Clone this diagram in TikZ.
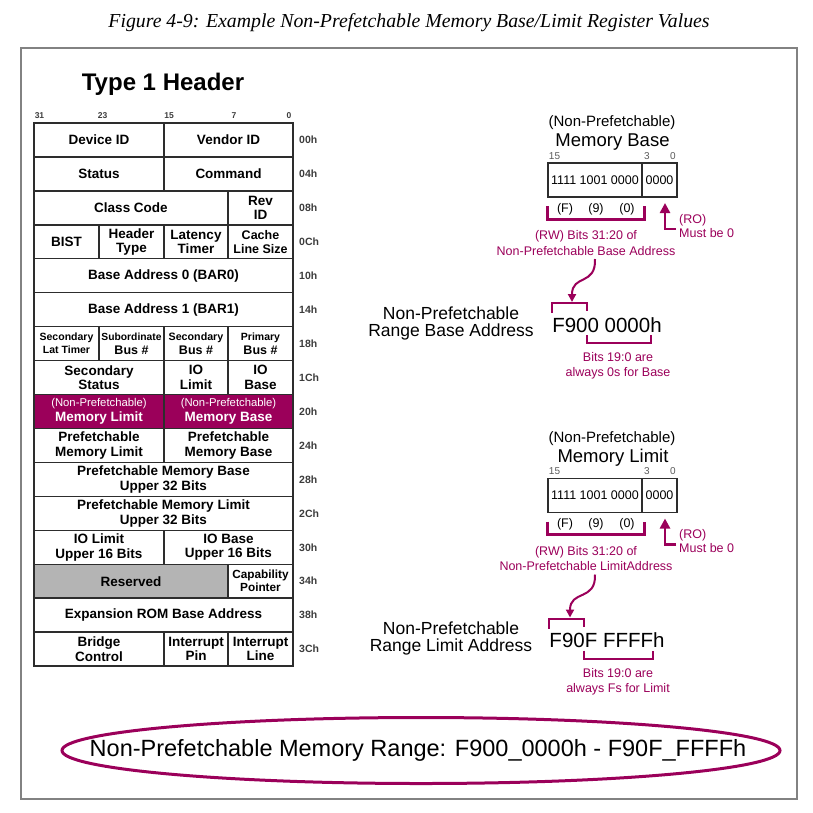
\documentclass[tikz,border=0pt]{standalone}
\usepackage{fontspec}
\setmainfont{Liberation Sans}
\newfontfamily\capfont{Liberation Serif}
\usetikzlibrary{shapes.geometric,arrows.meta}
\definecolor{pcipurple}{RGB}{155,0,90}
\definecolor{gridline}{RGB}{45,45,45}
\definecolor{resgray}{RGB}{180,180,180}
\definecolor{offgray}{RGB}{60,60,60}
\definecolor{bitgray}{RGB}{90,90,90}
\definecolor{framegray}{RGB}{130,130,130}
\newcommand\fsz[2]{\fontsize{#1}{#2}\selectfont}
\newcommand\tcell[6][]{\node[cellbox,#1,minimum width={(#4-#3)*1pt},minimum height=33.94pt] (#2) at ({(#3+#4)/2},{123+(#5+0.5)*33.94}) {#6};}
\newcommand\offlab[3]{\node[offs] (#1) at (299,{123+(#2+0.5)*33.94}) {#3};}
\begin{document}
\begin{tikzpicture}[x=1pt,y=-1pt,
  cellbox/.style={draw=gridline, line width=1.4pt, inner sep=0pt, outer sep=0pt, align=center, font=\bfseries\fsz{13.5}{14.5}},
  offs/.style={anchor=west, text=offgray, font=\bfseries\fsz{10.5}{12}, inner sep=0pt},
  bitnum/.style={font=\bfseries\fsz{8.5}{9}, inner sep=0pt, text=offgray},
  rbit/.style={font=\fsz{10}{11}, inner sep=0pt, text=bitgray},
  plain/.style={inner sep=0pt, align=center},
  ptxt/.style={text=pcipurple, inner sep=0pt, align=center, font=\fsz{12.5}{15.5}},
  regbox/.style={draw=gridline, line width=1.8pt, minimum height=34pt, inner sep=0pt, outer sep=0pt, font=\fsz{12.5}{14}},
  brk/.style={draw=pcipurple, line width=3pt},
  thinbrk/.style={draw=pcipurple, line width=2pt},
  roarr/.style={draw=pcipurple, line width=2.5pt, -{Triangle[width=10pt,length=10pt]}},
  curvarr/.style={draw=pcipurple, line width=2pt, -{Triangle[width=8pt,length=8pt]}}
]
\useasboundingbox (0,0) rectangle (813,812);
\draw[framegray, line width=1.5pt] (21,48) rectangle (797,799);

\node[font=\capfont\itshape\fsz{19.8}{21}, inner sep=0pt, anchor=base] (cap) at (409,27) {Figure 4-9: Example Non-Prefetchable Memory Base/Limit Register Values};

\node[font=\bfseries\fsz{24}{26}, inner sep=0pt, anchor=base] (title) at (163,90) {Type 1 Header};

\node[bitnum] (b31) at (39.5,115.5) {31};
\node[bitnum] (b23) at (102.5,115.5) {23};
\node[bitnum] (b15) at (169,115.5) {15};
\node[bitnum] (b7) at (234,115.5) {7};
\node[bitnum] (b0) at (289,115.5) {0};

\tcell{devid}{34}{164}{0}{Device ID}
\tcell{venid}{164}{293}{0}{Vendor ID}
\tcell{status}{34}{164}{1}{Status}
\tcell{command}{164}{293}{1}{Command}
\tcell{class}{34}{228}{2}{Class Code}
\tcell{rev}{228}{293}{2}{Rev\\ID}
\tcell{bist}{34}{99}{3}{BIST}
\tcell{htype}{99}{164}{3}{Header\\Type}
\tcell{lat}{164}{228}{3}{Latency\\Timer}
\tcell[font=\bfseries\fsz{12.5}{14.5}]{cache}{228}{293}{3}{Cache\\Line Size}
\tcell{bar0}{34}{293}{4}{Base Address 0 (BAR0)}
\tcell{bar1}{34}{293}{5}{Base Address 1 (BAR1)}
\tcell[font=\bfseries\fsz{10.5}{13}]{seclat}{34}{99}{6}{Secondary\\Lat Timer}
\tcell[font=\bfseries\fsz{12.5}{13.5}]{subbus}{99}{164}{6}{{\fsz{10.3}{12}Subordinate}\\Bus \#}
\tcell[font=\bfseries\fsz{12.5}{13.5}]{secbus}{164}{228}{6}{{\fsz{10.7}{12}Secondary}\\Bus \#}
\tcell[font=\bfseries\fsz{12.5}{13.5}]{pribus}{228}{293}{6}{{\fsz{10.5}{12}Primary}\\Bus \#}
\tcell{secstat}{34}{164}{7}{Secondary\\Status}
\tcell{iolim}{164}{228}{7}{IO\\Limit}
\tcell{iobase}{228}{293}{7}{IO\\Base}
\tcell[fill=pcipurple,text=white]{npml}{34}{164}{8}{{\mdseries\fsz{11.3}{12}(Non-Prefetchable)}\\Memory Limit}
\tcell[fill=pcipurple,text=white]{npmb}{164}{293}{8}{{\mdseries\fsz{11.3}{12}(Non-Prefetchable)}\\Memory Base}
\tcell{pml}{34}{164}{9}{Prefetchable\\Memory Limit}
\tcell{pmb}{164}{293}{9}{Prefetchable\\Memory Base}
\tcell{pmbu}{34}{293}{10}{Prefetchable Memory Base\\Upper 32 Bits}
\tcell{pmlu}{34}{293}{11}{Prefetchable Memory Limit\\Upper 32 Bits}
\tcell{iolu}{34}{164}{12}{IO Limit\\Upper 16 Bits}
\tcell{iobu}{164}{293}{12}{IO Base\\Upper 16 Bits}
\tcell[fill=resgray]{res}{34}{228}{13}{Reserved}
\tcell[font=\bfseries\fsz{11.8}{13}]{capp}{228}{293}{13}{Capability\\Pointer}
\tcell{erom}{34}{293}{14}{Expansion ROM Base Address}
\tcell{bctl}{34}{164}{15}{Bridge\\Control}
\tcell{ipin}{164}{228}{15}{Interrupt\\Pin}
\tcell{iline}{228}{293}{15}{Interrupt\\Line}

\offlab{o00}{0}{00h}
\offlab{o04}{1}{04h}
\offlab{o08}{2}{08h}
\offlab{o0C}{3}{0Ch}
\offlab{o10}{4}{10h}
\offlab{o14}{5}{14h}
\offlab{o18}{6}{18h}
\offlab{o1C}{7}{1Ch}
\offlab{o20}{8}{20h}
\offlab{o24}{9}{24h}
\offlab{o28}{10}{28h}
\offlab{o2C}{11}{2Ch}
\offlab{o30}{12}{30h}
\offlab{o34}{13}{34h}
\offlab{o38}{14}{38h}
\offlab{o3C}{15}{3Ch}

% ---------- Memory Base ----------
\node[plain, font=\fsz{15}{16}] (bpre) at (612,123) {(Non-Prefetchable)};
\node[plain, font=\fsz{18.5}{20}] (bname) at (612.5,142) {Memory Base};
\node[rbit] (bb15) at (554.5,156) {15};
\node[rbit] (bb3) at (647,156) {3};
\node[rbit] (bb0) at (673,156) {0};
\node[regbox, minimum width=94pt] (bregL) at (595,180) {1111 1001 0000};
\node[regbox, minimum width=35pt] (bregR) at (659.5,180) {0000};
\node[plain, font=\fsz{12.5}{14}] (bF) at (565,209) {(F)};
\node[plain, font=\fsz{12.5}{14}] (b9) at (596,209) {(9)};
\node[plain, font=\fsz{12.5}{14}] (bZ) at (627,209) {(0)};
\coordinate (bbr1) at (547,206);
\coordinate (bbr2) at (644,206);
\draw[brk] (bbr1) -- (547,219) -- (644,219) -- (bbr2);
\coordinate (bro) at (676,229);
\coordinate (brotip) at (665,203);
\draw[roarr] (bro) -- (665,229) -- (brotip);
\node[ptxt, anchor=west, align=left, font=\fsz{12.5}{14}] (brol) at (679,226) {(RO)\\Must be 0};
\node[ptxt] (brw) at (586,243) {(RW) Bits 31:20 of\\Non-Prefetchable Base Address};
\coordinate (bcs) at (595,259);
\coordinate (bct) at (572,302);
\draw[curvarr] (bcs) .. controls (596,286) and (572,274) .. (bct);
\node[plain, font=\fsz{17.5}{17}] (brange) at (451,323) {Non-Prefetchable\\Range Base Address};
\node[plain, font=\fsz{20.5}{22}, anchor=base] (bval) at (607,332) {F900 0000h};
\draw[thinbrk] (552,313) -- (552,303) -- (587,303) -- (587,311);
\draw[thinbrk] (587,335) -- (587,343) -- (651,343) -- (651,335);
\node[ptxt, font=\fsz{12.5}{15}] (bnote) at (618,366) {Bits 19:0 are\\always 0s for Base};

% ---------- Memory Limit ----------
\begin{scope}[shift={(0,315.5)}]
\node[plain, font=\fsz{15}{16}] (lpre) at (612,123) {(Non-Prefetchable)};
\node[plain, font=\fsz{18.5}{20}] (lname) at (613,142) {Memory Limit};
\node[rbit] (lb15) at (554.5,156) {15};
\node[rbit] (lb3) at (647,156) {3};
\node[rbit] (lb0) at (673,156) {0};
\node[regbox, minimum width=94pt] (lregL) at (595,180) {1111 1001 0000};
\node[regbox, minimum width=35pt] (lregR) at (659.5,180) {0000};
\node[plain, font=\fsz{12.5}{14}] (lF) at (565,209) {(F)};
\node[plain, font=\fsz{12.5}{14}] (l9) at (596,209) {(9)};
\node[plain, font=\fsz{12.5}{14}] (lZ) at (627,209) {(0)};
\coordinate (lbr1) at (547,206);
\coordinate (lbr2) at (644,206);
\draw[brk] (lbr1) -- (547,219) -- (644,219) -- (lbr2);
\coordinate (lro) at (676,229);
\coordinate (lrotip) at (665,203);
\draw[roarr] (lro) -- (665,229) -- (lrotip);
\node[ptxt, anchor=west, align=left, font=\fsz{12.5}{14}] (lrol) at (679,226) {(RO)\\Must be 0};
\node[ptxt] (lrw) at (586,243) {(RW) Bits 31:20 of\\Non-Prefetchable LimitAddress};
\coordinate (lcs) at (595,259);
\coordinate (lct) at (570,302);
\draw[curvarr] (lcs) .. controls (596,286) and (570,274) .. (lct);
\node[plain, font=\fsz{17.5}{17}] (lrange) at (451,323) {Non-Prefetchable\\Range Limit Address};
\node[plain, font=\fsz{20.5}{22}, anchor=base] (lval) at (607,332) {F90F FFFFh};
\draw[thinbrk] (549,313) -- (549,303) -- (584,303) -- (584,311);
\draw[thinbrk] (584,335) -- (584,343) -- (653,343) -- (653,335);
\node[ptxt, font=\fsz{12.5}{15}] (lnote) at (618,366) {Bits 19:0 are\\always Fs for Limit};
\end{scope}

\node[draw=pcipurple, line width=3pt, ellipse, minimum width=718pt, minimum height=66pt, inner sep=0pt] (range) at (421,750.5) {};
\node[inner sep=0pt, font=\fsz{23.5}{26}] (rangetxt) at (418,750.5) {Non-Prefetchable Memory Range: F900\_0000h - F90F\_FFFFh};
\end{tikzpicture}
\end{document}
